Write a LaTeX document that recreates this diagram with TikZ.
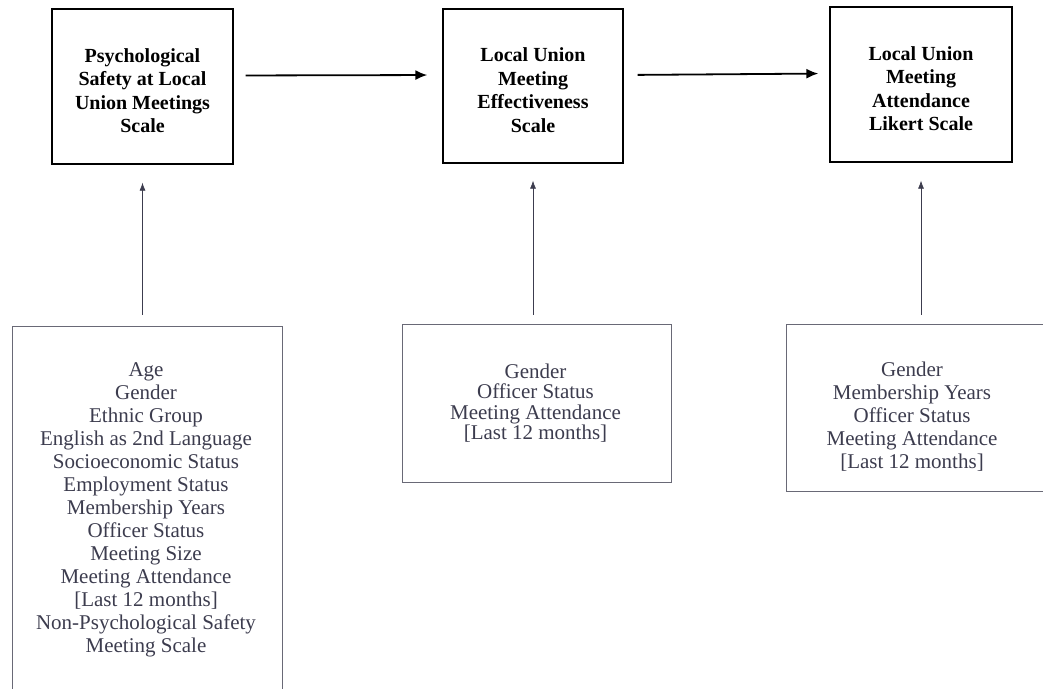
\documentclass[tikz,border=0pt]{standalone}
\usepackage{fontspec}
\setmainfont{Liberation Serif}
\usetikzlibrary{arrows.meta}
\definecolor{scangray}{RGB}{60,60,78}
\definecolor{framegray}{RGB}{105,105,118}
\begin{document}
\begin{tikzpicture}[x=1pt,y=-1pt,
  scale box/.style={draw,line width=1.3pt,inner sep=0pt},
  scale text/.style={align=center,inner sep=0pt,font=\fontsize{20}{23.5}\selectfont\bfseries},
  ctrl box/.style={draw=framegray,line width=0.7pt,inner sep=0pt},
  ctrl text/.style={align=center,inner sep=0pt,text=scangray,font=\fontsize{21}{23}\selectfont},
  flow/.style={line width=1.8pt,-{Latex[length=12pt,width=10pt]}},
  feed/.style={draw=scangray,line width=0.7pt,-{Latex[length=8pt,width=6pt]}}]
\useasboundingbox (0,0) rectangle (1043,688);

% outcome scales
\node[scale box,minimum width=181,minimum height=155] (psych) at (142.5,86.5) {};
\node[scale box,minimum width=180,minimum height=154] (effect) at (533,86) {};
\node[scale box,minimum width=182,minimum height=155] (attend) at (921,84.5) {};
\node[scale text] (psych-t) at ([yshift=-4pt]psych.center)
  {Psychological\\Safety at Local\\Union Meetings\\Scale};
\node[scale text] (effect-t) at ([yshift=-4pt]effect.center)
  {Local Union\\Meeting\\Effectiveness\\Scale};
\node[scale text] (attend-t) at ([yshift=-4pt]attend.center)
  {Local Union\\Meeting\\Attendance\\Likert Scale};

% control variables
\node[ctrl box,minimum width=270,minimum height=368] (ctrlA) at (147,510) {};
\node[ctrl box,minimum width=269,minimum height=158] (ctrlB) at (536.5,403) {};
\node[ctrl box,minimum width=260,minimum height=167] (ctrlC) at (916,407.5) {};
\node[ctrl text] (ctrlA-t) at ([xshift=-1pt]ctrlA.center)
  {Age\\Gender\\Ethnic Group\\English as 2nd Language\\Socioeconomic Status\\
   Employment Status\\Membership Years\\Officer Status\\Meeting Size\\
   Meeting Attendance\\{[Last 12 months]}\\Non-Psychological Safety\\Meeting Scale};
\node[ctrl text,font=\fontsize{21}{20.5}\selectfont] (ctrlB-t) at ([xshift=-1pt]ctrlB.center)
  {Gender\\Officer Status\\Meeting Attendance\\{[Last 12 months]}};
\node[ctrl text] (ctrlC-t) at ([xshift=-4pt,yshift=-9pt]ctrlC.center)
  {Gender\\Membership Years\\Officer Status\\Meeting Attendance\\{[Last 12 months]}};

\draw[flow,shorten <=12pt,shorten >=15pt] ([yshift=11pt]psych.east) -- ([yshift=11pt]effect.west);
\draw[flow,shorten <=14pt,shorten >=11pt] ([yshift=11pt]effect.east) -- ([yshift=11pt]attend.west);

\draw[feed,shorten <=11pt,shorten >=18pt] (ctrlA.north -| psych.south) -- (psych.south);
\draw[feed,shorten <=9pt,shorten >=17pt] (ctrlB.north -| effect.south) -- (effect.south);
\draw[feed,shorten <=9pt,shorten >=18pt] (ctrlC.north -| attend.south) -- (attend.south);
\end{tikzpicture}
\end{document}
